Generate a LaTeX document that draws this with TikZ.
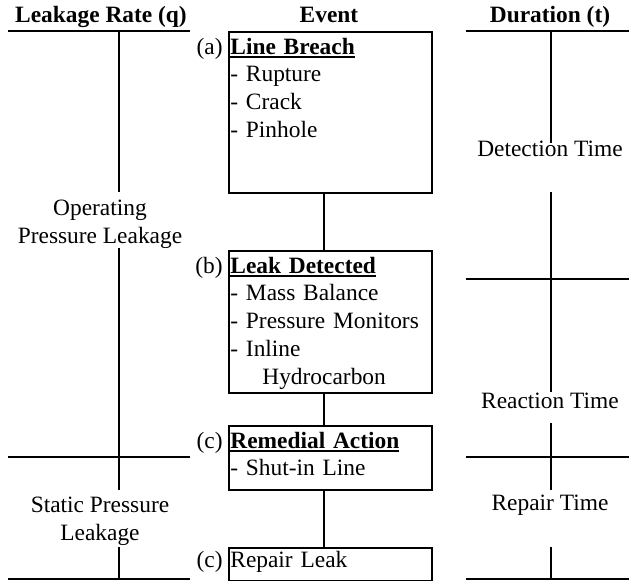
\documentclass[tikz,border=0pt]{standalone}
\usepackage{fontspec}
\setmainfont{Liberation Serif}

\newsavebox{\ttlbox}
\newcommand{\evtitle}[1]{\sbox{\ttlbox}{\textbf{#1}}\rlap{\rule[-2pt]{\wd\ttlbox}{0.9pt}}\usebox{\ttlbox}}

\tikzset{
    rule/.style={line width=1pt},
    hdr/.style={anchor=base, font=\fontsize{11.7}{13.9}\selectfont\bfseries},
    evbox/.style={draw, line width=1.1pt, minimum width=101.5pt, inner sep=0pt, anchor=north west},
    evtext/.style={anchor=north west, text width=99pt, align=left, inner xsep=1pt, inner ysep=3.2pt},
    coltext/.style={align=center}
}

\begin{document}
\begin{tikzpicture}[x=0.5pt, y=-0.5pt, font=\fontsize{11.7}{13.9}\selectfont]
    \useasboundingbox (0,0) rectangle (629,581);

    % headers
    \node[hdr] (qhdr) at (101,23) {Leakage Rate (q)};
    \node[hdr] (evhdr) at (329,23) {Event};
    \node[hdr] (thdr) at (550,23) {Duration (t)};

    % leakage rate column
    \draw[rule] (8,31) -- (190,31);
    \draw[rule] (119,31) -- (119,192);
    \node[coltext] (oplk) at (100,224) {Operating\\Pressure Leakage};
    \draw[rule] (119,248) -- (119,490);
    \draw[rule] (8,457) -- (190,457);
    \node[coltext] (stlk) at (100,521) {Static Pressure\\Leakage};
    \draw[rule] (119,547) -- (119,579);
    \draw[rule] (8,579) -- (190,579);

    % event column
    \node[evbox, minimum height=80.5pt] (brch) at (228,31) {};
    \node[evtext] (brchtxt) at (brch.north west)
        {\llap{(a)~}\evtitle{Line Breach}\\- Rupture\\- Crack\\- Pinhole};

    \node[evbox, minimum height=71pt] (detc) at (228,250) {};
    \node[evtext] (detctxt) at (detc.north west)
        {\llap{(b)~}\evtitle{Leak Detected}\\- Mass Balance\\- Pressure Monitors\\- Inline\\\hspace*{16pt}Hydrocarbon};

    \node[evbox, minimum height=32pt] (rmdl) at (228,425) {};
    \node[evtext] (rmdltxt) at (rmdl.north west)
        {\llap{(c)~}\evtitle{Remedial Action}\\- Shut-in Line};

    \node[evbox, minimum height=16.5pt] (rpr) at (228,547) {};
    \node[evtext, inner ysep=2pt] (rprtxt) at (rpr.north west)
        {\llap{(c)~}Repair Leak};

    \draw[rule] ([xshift=-3.25pt]brch.south) -- ([xshift=-3.25pt]detc.north);
    \draw[rule] ([xshift=-3.25pt]detc.south) -- ([xshift=-3.25pt]rmdl.north);
    \draw[rule] ([xshift=-3.25pt]rmdl.south) -- ([xshift=-3.25pt]rpr.north);

    % duration column
    \draw[rule] (466,31) -- (629,31);
    \draw[rule] (551,31) -- (551,143);
    \node[anchor=base] (dett) at (550,157) {Detection Time};
    \draw[rule] (551,192) -- (551,392);
    \draw[rule] (466,279) -- (629,279);
    \node[anchor=base] (reat) at (550,409) {Reaction Time};
    \draw[rule] (551,423) -- (551,490);
    \draw[rule] (466,457) -- (629,457);
    \node[anchor=base] (rprt) at (550,511) {Repair Time};
    \draw[rule] (551,547) -- (551,579);
    \draw[rule] (466,579) -- (629,579);
\end{tikzpicture}
\end{document}
